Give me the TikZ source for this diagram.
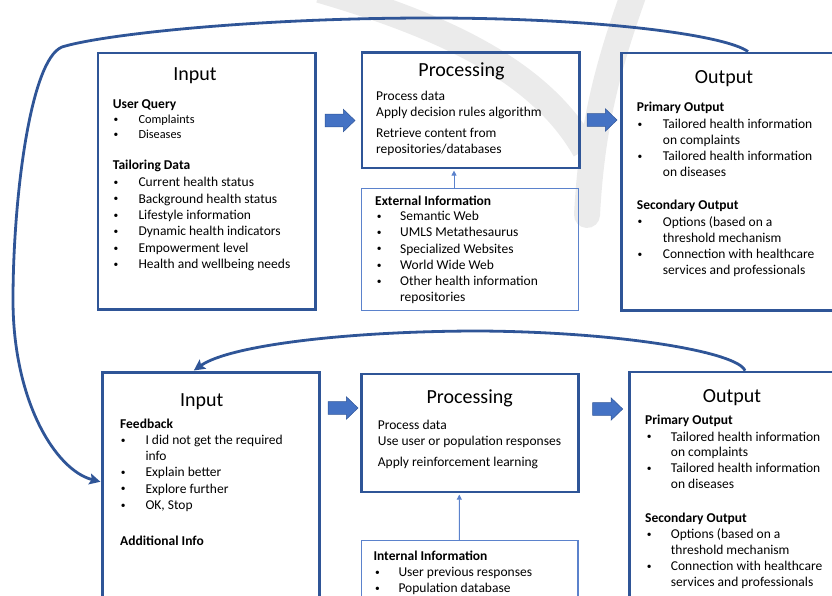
\documentclass[tikz,border=0pt]{standalone}
\usepackage{fontspec}
\setmainfont{Carlito}
\usetikzlibrary{arrows.meta}

\definecolor{boxblue}{HTML}{2F5597}
\definecolor{arrowblue}{HTML}{4472C4}
\definecolor{thinblue}{HTML}{5B82CC}
\definecolor{markgray}{HTML}{EBEBEB}

\newcommand{\titlefont}{\fontsize{20}{24}\selectfont}
\newcommand{\bodyfont}{\fontsize{13.5}{16}\selectfont}
\newcommand{\smallbody}{\fontsize{12.3}{15}\selectfont}

% name, bullet x, text x, first baseline, line step, list of bullet/text
\newcommand{\textlines}[6]{%
  \foreach \b/\txt [count=\i from 0] in {#6}{
    \node[itemtext] (#1-\i) at (#3, #4+\i*#5) {\txt};
    \ifnum\b=1 \node[bulletmark] (#1-b\i) at (#2, #4+\i*#5) {\textbullet};\fi
  }}

\tikzset{
  bigbox/.style={draw=boxblue, line width=2.6pt, inner sep=0pt},
  infobox/.style={draw=thinblue, line width=1.2pt, inner sep=0pt},
  boxtitle/.style={anchor=base, inner sep=0pt, font=\titlefont},
  boxhead/.style={anchor=base west, inner sep=0pt, font=\bodyfont\bfseries},
  itemtext/.style={anchor=base west, inner sep=0pt, font=\bodyfont},
  bulletmark/.style={anchor=base west, inner sep=0pt, yshift=1.2pt, font=\fontsize{9.5}{11}\selectfont},
  feedback/.style={draw=boxblue, line width=2.8pt, -{Stealth[length=11pt, width=11pt, inset=2pt]}, shorten >=1pt},
  infolink/.style={draw=thinblue, line width=1pt, -{Triangle[length=5pt, width=5pt]}, shorten >=1.3pt},
  watermark/.style={draw=markgray, line width=26pt},
  blockarrow/.pic={\draw[fill=arrowblue, draw=boxblue, line width=0.5pt] (0,-6.3) -- (18.3,-6.3) -- (18.3,-11.3) -- (30,0) -- (18.3,11.3) -- (18.3,6.3) -- (0,6.3) -- cycle;}
}

\begin{document}
\begin{tikzpicture}[x=1pt, y=-1pt]
	\useasboundingbox (0,0) rectangle (832,596);
	\clip (0,0) rectangle (832,596);

	% Background mark:
	\draw[watermark] (320,-10) .. controls (440,25) and (540,70) .. (585,150);
	\draw[watermark, line cap=round] (635,-10) .. controls (610,60) and (592,120) .. (587,215);

	% Boxes:
	\node[bigbox, minimum width=217.3, minimum height=256.7] (inTop) at (206.7, 181.2) {};
	\node[bigbox, minimum width=217.3, minimum height=115.2] (procTop) at (470.7, 110.4) {};
	\node[infobox, minimum width=217, minimum height=122.4] (extTop) at (469.8, 249.5) {};
	\node[bigbox, minimum width=223.7, minimum height=257.7] (outTop) at (733.2, 181.7) {};
	\node[bigbox, minimum width=217, minimum height=237.7] (inBot) at (211.2, 491.2) {};
	\node[bigbox, minimum width=217.4, minimum height=118] (procBot) at (470, 433) {};
	\node[infobox, minimum width=216.3, minimum height=69.3] (intBot) at (469.9, 575.4) {};
	\node[bigbox, minimum width=215.3, minimum height=238] (outBot) at (737.4, 491) {};

	% Arrows between boxes:
	\pic (arrA) at (325, 120.5) {blockarrow};
	\pic (arrB) at (587, 120) {blockarrow};
	\pic (arrC) at (328, 408) {blockarrow};
	\pic (arrD) at (592.7, 409) {blockarrow};
	\draw[infolink] ([xshift=-15.8pt]extTop.north) -- ([xshift=-16.7pt]procTop.south);
	\draw[infolink] ([xshift=-10.6pt]intBot.north) -- ([xshift=-10.7pt]procBot.south);

	% Feedback loops:
	\draw[feedback] ([xshift=14.8pt]outTop.north) .. controls (725,35) and (600,18) .. (430,18) .. controls (250,18) and (100,35) .. (62,47) .. controls (30,60) and (13,200) .. (13,300) .. controls (13,400) and (55,470) .. ([yshift=9.2pt]inBot.west);
	\draw[feedback] ([xshift=7.6pt]outBot.north) .. controls (738,352) and (620,332) .. (480,331) .. controls (350,331) and (230,345) .. ([xshift=-18.2pt]inBot.north);

	% Top row texts:
	\node[boxtitle] (tInTitle) at (195, 80.7) {Input};
	\node[boxhead] (tUser) at (112.7, 108.3) {User Query};
	\begin{scope}[itemtext/.append style={font=\smallbody}]
		\textlines{tUq}{113.3}{138.3}{123.3}{15.4}{1/Complaints, 1/Diseases}
	\end{scope}
	\node[boxhead] (tTail) at (112.7, 170) {Tailoring Data};
	\textlines{tTd}{113.3}{138.3}{186.7}{16.4}{1/Current health status, 1/Background health status, 1/Lifestyle information, 1/Dynamic health indicators, 1/Empowerment level, 1/Health and wellbeing needs}

	\node[boxtitle] (tProcTitle) at (461.5, 76.7) {Processing};
	\textlines{tPa}{376}{376}{100.7}{16}{0/Process data, 0/Apply decision rules algorithm}
	\textlines{tPb}{376}{376}{137.3}{16}{0/Retrieve content from, 0/{repositories/databases}}

	\node[boxhead] (tExt) at (375, 205) {External Information};
	\textlines{tEx}{376.7}{400}{220.7}{16.2}{1/Semantic Web, 1/UMLS Metathesaurus, 1/Specialized Websites, 1/World Wide Web, 1/Other health information, 0/repositories}

	\node[boxtitle] (tOutTitle) at (724, 84) {Output};
	\node[boxhead] (tPrim) at (636.7, 111.7) {Primary Output};
	\textlines{tPo}{637.3}{662.7}{128.3}{16.1}{1/Tailored health information, 0/on complaints, 1/Tailored health information, 0/on diseases}
	\node[boxhead] (tSec) at (636.7, 209.3) {Secondary Output};
	\textlines{tSo}{637.3}{662.7}{226}{16.1}{1/Options (based on a, 0/threshold mechanism, 1/Connection with healthcare, 0/services and professionals}

	% Bottom row texts:
	\node[boxtitle] (bInTitle) at (201.7, 406) {Input};
	\node[boxhead] (bFeed) at (120, 428.3) {Feedback};
	\textlines{bFb}{120.7}{145.3}{444.3}{16.25}{1/I did not get the required, 0/info, 1/Explain better, 1/Explore further, 1/{OK, Stop}}
	\node[boxhead] (bAdd) at (120, 545) {Additional Info};

	\node[boxtitle] (bProcTitle) at (469.7, 403.3) {Processing};
	\textlines{bPa}{377.7}{377.7}{429.3}{15.7}{0/Process data, 0/Use user or population responses}
	\textlines{bPb}{377.7}{377.7}{466}{15.7}{0/Apply reinforcement learning}

	\node[boxhead] (bInt) at (373.3, 560) {Internal Information};
	\textlines{bIn}{375}{398.3}{576.7}{15.6}{1/User previous responses, 1/Population database}

	\node[boxtitle] (bOutTitle) at (732, 402.7) {Output};
	\node[boxhead] (bPrim) at (645, 424) {Primary Output};
	\textlines{bPo}{646.7}{670.7}{441}{15.9}{1/Tailored health information, 0/on complaints, 1/Tailored health information, 0/on diseases}
	\node[boxhead] (bSec) at (645, 522.7) {Secondary Output};
	\textlines{bSo}{646.7}{670.7}{538.3}{16.1}{1/Options (based on a, 0/threshold mechanism, 1/Connection with healthcare, 0/services and professionals}
\end{tikzpicture}
\end{document}
